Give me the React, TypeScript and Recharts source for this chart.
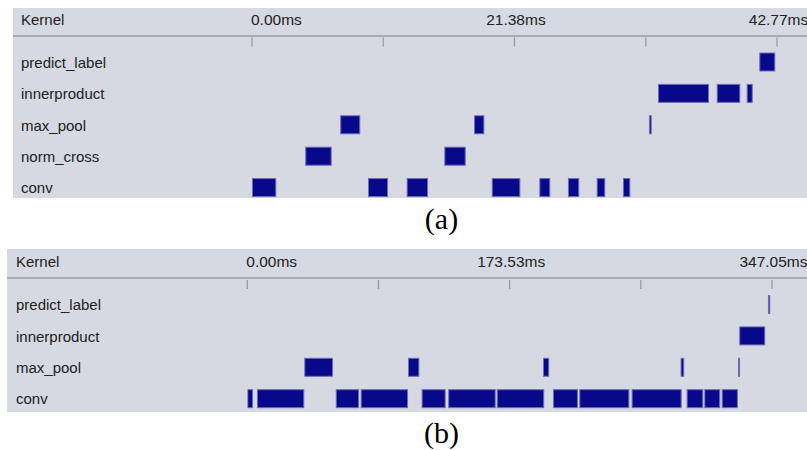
import React from 'react';
import { ComposedChart, Bar, XAxis, YAxis } from 'recharts';

type Seg = [number, number];

// ---- Panel (a): kernel timeline, 0 .. 42.77 ms ----
const kernelsA = ['predict_label', 'innerproduct', 'max_pool', 'norm_cross', 'conv'];
const predictLabelA: Seg[] = [[41.33, 42.63]];
const innerproductA: Seg[] = [[33.08, 37.23], [37.86, 39.78], [40.3, 40.79]];
const maxPoolA: Seg[] = [[7.19, 8.82], [18.09, 18.93], [32.34, 32.56]];
const normCrossA: Seg[] = [[4.34, 6.49], [15.67, 17.41]];
const convA: Seg[] = [
  [0, 1.98], [9.45, 11.08], [12.6, 14.34], [19.53, 21.86],
  [23.41, 24.3], [25.74, 26.66], [28.08, 28.78], [30.22, 30.82],
];
const ticksA = [0, 10.69, 21.38, 32.08, 42.77];
const tickLabelsA = ['0.00ms', '', '21.38ms', '', '42.77ms'];

// ---- Panel (b): kernel timeline, 0 .. 347.05 ms ----
const kernelsB = ['predict_label', 'innerproduct', 'max_pool', 'conv'];
const predictLabelB: Seg[] = [[344.4, 345.9]];
const innerproductB: Seg[] = [[325.4, 342.6]];
const maxPoolB: Seg[] = [[37.7, 56.7], [106.3, 113.8], [195.6, 199.7], [286.6, 289.0], [324.6, 325.4]];
const convB: Seg[] = [
  [0, 3.8], [6.4, 37.7], [58.5, 73.9], [75.0, 106.3], [115.3, 131.2],
  [132.9, 164.3], [165.0, 196.4], [202.2, 218.7], [219.6, 252.7],
  [254.2, 287.3], [290.6, 301.6], [302.3, 312.8], [313.8, 324.5],
];
const ticksB = [0, 86.76, 173.53, 260.29, 347.05];
const tickLabelsB = ['0.00ms', '', '173.53ms', '', '347.05ms'];

const rowsA = [
  { kernel: kernelsA[0], segs: predictLabelA },
  { kernel: kernelsA[1], segs: innerproductA },
  { kernel: kernelsA[2], segs: maxPoolA },
  { kernel: kernelsA[3], segs: normCrossA },
  { kernel: kernelsA[4], segs: convA },
];
const rowsB = [
  { kernel: kernelsB[0], segs: predictLabelB },
  { kernel: kernelsB[1], segs: innerproductB },
  { kernel: kernelsB[2], segs: maxPoolB },
  { kernel: kernelsB[3], segs: convB },
];

const BG = '#d6d9e1';
const BAR_FILL = '#08088a';
const BAR_STROKE = '#6b6bb8';
const TEXT = '#222';
const FONT = '"Liberation Sans", Arial, sans-serif';
const SERIF = '"Liberation Serif", "Times New Roman", Tinos, Times, serif';

type Row = { kernel: string; segs: Seg[] };

interface PanelProps {
  left: number;
  top: number;
  width: number;
  height: number;
  plotLeft: number;
  plotRight: number;
  plotTop: number;
  rows: Row[];
  ticks: number[];
  tickLabels: string[];
  labelX: number;
}

const BAR_SIZE = 19;
const ROW_H = 31.4;

function Panel(p: PanelProps) {
  const maxSegs = Math.max(...p.rows.map((r) => r.segs.length));
  const chartH = p.plotTop + ROW_H * p.rows.length;
  const domainMax = p.ticks[p.ticks.length - 1];

  const renderXTick = (props: any) => {
    const { x, index } = props;
    const label = p.tickLabels[index];
    const anchor = index === 0 ? 'start' : 'middle';
    return (
      <g>
        <line x1={x} x2={x} y1={p.plotTop - 9} y2={p.plotTop} stroke="#9a9aa6" strokeWidth={1.3} />
        {label ? (
          <text x={index === 0 ? x - 1 : x + 1.5} y={p.plotTop - 22} textAnchor={anchor} fill={TEXT}
            fontSize={15.5} fontFamily={FONT}>
            {label}
          </text>
        ) : null}
      </g>
    );
  };

  const renderYTick = (props: any) => {
    const { y, payload } = props;
    return (
      <text x={p.labelX} y={y + 5.5} textAnchor="start" fill={TEXT} fontSize={15} fontFamily={FONT}>
        {payload.value}
      </text>
    );
  };

  const segShape = (props: any) => {
    const { x, y, width, height } = props;
    if (!(width > 0) || !isFinite(x)) return <g />;
    return (
      <rect x={x + 0.5} y={y + 0.5} width={Math.max(width - 1, 1)} height={height - 1}
        fill={BAR_FILL} stroke={BAR_STROKE} strokeWidth={1} />
    );
  };

  return (
    <div style={{ position: 'absolute', left: p.left, top: p.top, width: p.width, height: p.height,
      overflow: 'hidden', background: BG }}>
      <div style={{ position: 'absolute', left: 0, top: p.plotTop - 12, width: p.width, height: 2,
        background: '#a9abb3' }} />
      <ComposedChart
        width={p.width}
        height={chartH}
        data={p.rows}
        layout="vertical"
        barGap={-BAR_SIZE}
        barCategoryGap={0}
        margin={{ top: 0, right: p.width - p.plotRight, bottom: 0, left: 0 }}
      >
        <XAxis
          type="number"
          orientation="top"
          domain={[0, domainMax]}
          ticks={p.ticks}
          allowDataOverflow
          height={p.plotTop}
          axisLine={false}
          tickLine={false}
          interval={0}
          tick={renderXTick}
        />
        <YAxis
          type="category"
          dataKey="kernel"
          width={p.plotLeft}
          axisLine={false}
          tickLine={false}
          tick={renderYTick}
          interval={0}
        />
        {Array.from({ length: maxSegs }, (_, i) => (
          <Bar
            key={i}
            dataKey={(r: Row) => r.segs[i] ?? [0, 0]}
            barSize={BAR_SIZE}
            isAnimationActive={false}
            shape={segShape}
          />
        ))}
      </ComposedChart>
      <div style={{ position: 'absolute', left: p.labelX, top: p.plotTop - 36, fontSize: 15,
        fontFamily: FONT, color: TEXT, lineHeight: '18px' }}>
        Kernel
      </div>
    </div>
  );
}

export default function App() {
  return (
    <div style={{ position: 'absolute', left: 0, top: 0, width: 807, height: 450, background: '#fff' }}>
      <Panel left={13} top={8} width={794} height={190} plotLeft={239} plotRight={764}
        plotTop={38.5} rows={rowsA} ticks={ticksA} tickLabels={tickLabelsA} labelX={8} />
      <div style={{ position: 'absolute', left: 38, width: 807, top: 203, textAlign: 'center',
        fontFamily: SERIF, fontSize: 30, lineHeight: '32px', color: '#000' }}>
        (a)
      </div>
      <Panel left={7} top={249} width={800} height={163} plotLeft={240.3} plotRight={765}
        plotTop={40} rows={rowsB} ticks={ticksB} tickLabels={tickLabelsB} labelX={9} />
      <div style={{ position: 'absolute', left: 38, width: 807, top: 417, textAlign: 'center',
        fontFamily: SERIF, fontSize: 30, lineHeight: '32px', color: '#000' }}>
        (b)
      </div>
    </div>
  );
}
